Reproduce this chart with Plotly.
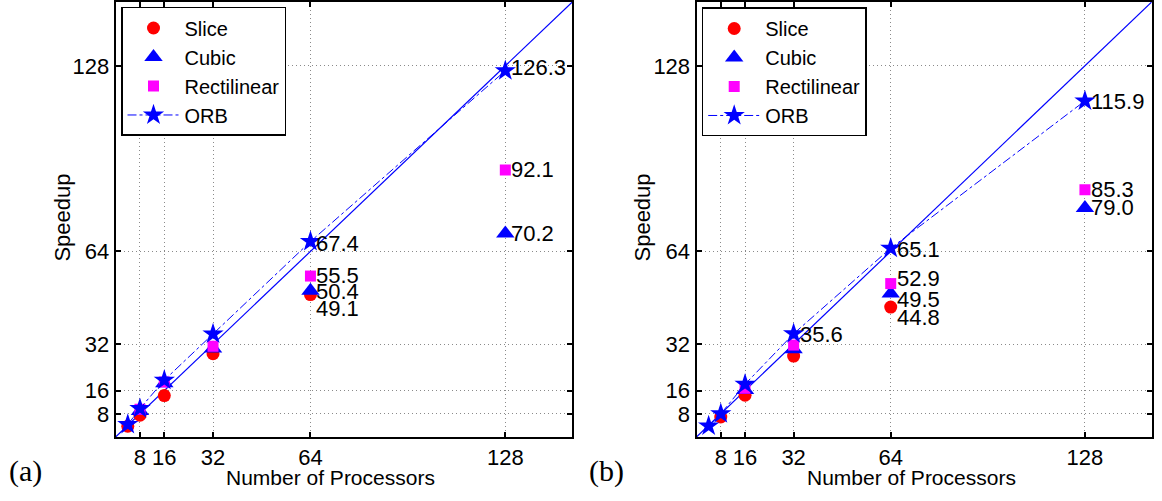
import plotly.graph_objects as go

# ---------------- data ----------------
tick_vals = [8, 16, 32, 64, 128]
tick_text = ["8", "16", "32", "64", "128"]
axis_range = [0, 150]
ideal = [0, 150]

# panel (a)
a_slice_x = [4, 8, 16, 32, 64]
a_slice_y = [3.7, 7.5, 14.3, 28.7, 49.1]
a_cubic_x = [8, 16, 32, 64, 128]
a_cubic_y = [9.0, 18.5, 30.5, 50.4, 70.2]
a_rect_x = [8, 16, 32, 64, 128]
a_rect_y = [9.6, 19.0, 31.3, 55.5, 92.1]
a_orb_x = [4, 8, 16, 32, 64, 128]
a_orb_y = [4.3, 9.8, 19.6, 35.5, 67.4, 126.3]

# panel (b)
b_slice_x = [8, 16, 32, 64]
b_slice_y = [6.9, 14.4, 27.9, 44.8]
b_cubic_x = [16, 32, 64, 128]
b_cubic_y = [16.2, 30.3, 49.5, 79.0]
b_rect_x = [16, 32, 64, 128]
b_rect_y = [16.8, 31.7, 52.9, 85.3]
b_orb_x = [4, 8, 16, 32, 64, 128]
b_orb_y = [3.8, 8.0, 18.2, 35.6, 65.1, 115.9]

RED, BLUE, MAG = "#ff0000", "#0000ff", "#ff00ff"
SANS = "Liberation Sans, Arial, sans-serif"
W, H = 1162, 501
B = 64  # bottom margin
PH = H - B

fig = go.Figure()

def add_panel(sx, sy, cx, cy, rx, ry, ox, oy, xa, ya, legend):
    fig.add_trace(go.Scatter(x=ideal, y=ideal, mode="lines", line=dict(color=BLUE, width=1.2),
                             xaxis=xa, yaxis=ya, showlegend=False, hoverinfo="skip"))
    fig.add_trace(go.Scatter(x=sx, y=sy, mode="markers", name="Slice",
                             marker=dict(symbol="circle", size=13, color=RED, line=dict(width=0)),
                             xaxis=xa, yaxis=ya, legend=legend))
    fig.add_trace(go.Scatter(x=cx, y=cy, mode="markers", name="Cubic",
                             marker=dict(symbol="triangle-up", size=16, color=BLUE, line=dict(width=0)),
                             xaxis=xa, yaxis=ya, legend=legend))
    fig.add_trace(go.Scatter(x=rx, y=ry, mode="markers", name="Rectilinear",
                             marker=dict(symbol="square", size=11, color=MAG, line=dict(width=0)),
                             xaxis=xa, yaxis=ya, legend=legend))
    fig.add_trace(go.Scatter(x=ox, y=oy, mode="lines+markers", name="ORB",
                             line=dict(color=BLUE, width=1, dash="dashdot"),
                             marker=dict(symbol="star", size=16, color=BLUE, line=dict(width=0)),
                             xaxis=xa, yaxis=ya, legend=legend))

add_panel(a_slice_x, a_slice_y, a_cubic_x, a_cubic_y, a_rect_x, a_rect_y, a_orb_x, a_orb_y, "x", "y", "legend")
add_panel(b_slice_x, b_slice_y, b_cubic_x, b_cubic_y, b_rect_x, b_rect_y, b_orb_x, b_orb_y, "x2", "y2", "legend2")

# value labels: (x list, y list, index, yshift)
labels_a = [
    (a_orb_x, a_orb_y, 4, -2), (a_rect_x, a_rect_y, 3, 1), (a_cubic_x, a_cubic_y, 3, -1),
    (a_slice_x, a_slice_y, 4, -14), (a_orb_x, a_orb_y, 5, 3), (a_rect_x, a_rect_y, 4, 0),
    (a_cubic_x, a_cubic_y, 4, 0),
]
labels_b = [
    (b_orb_x, b_orb_y, 3, -1), (b_orb_x, b_orb_y, 4, -1), (b_rect_x, b_rect_y, 2, 5),
    (b_cubic_x, b_cubic_y, 2, -6), (b_slice_x, b_slice_y, 3, -10), (b_orb_x, b_orb_y, 5, -1),
    (b_rect_x, b_rect_y, 3, 0), (b_cubic_x, b_cubic_y, 3, 0),
]
annotations = []
for labs, xr, yr in ((labels_a, "x", "y"), (labels_b, "x2", "y2")):
    for xs, ys, i, dy in labs:
        annotations.append(dict(x=xs[i], y=ys[i], xref=xr, yref=yr, text=f"{ys[i]:.1f}",
                                showarrow=False, xanchor="left", yanchor="middle",
                                xshift=4, yshift=dy, font=dict(family=SANS, size=22, color="black")))

dom_a = [115.6 / W, 572.3 / W]
dom_b = [696.5 / W, 1151.7 / W]

for dom, tag in ((dom_a, "a"), (dom_b, "b")):
    cx = (dom[0] + dom[1]) / 2 - 13 / W
    annotations.append(dict(x=cx, y=-41 / PH, xref="paper", yref="paper", text="Number of Processors",
                            showarrow=False, xanchor="center", yanchor="middle",
                            font=dict(family=SANS, size=21, color="black")))
    annotations.append(dict(x=dom[0] - 54 / W, y=1 - 217 / PH, xref="paper", yref="paper", text="Speedup",
                            textangle=-90, showarrow=False, xanchor="center", yanchor="middle",
                            font=dict(family=SANS, size=22, color="black")))
    annotations.append(dict(x=dom[0] - 90 / W, y=-34 / PH, xref="paper", yref="paper", text=f"({tag})",
                            showarrow=False, xanchor="center", yanchor="middle",
                            font=dict(family="Liberation Serif, DejaVu Serif, serif", size=30, color="black")))

axis_common = dict(range=axis_range, tickmode="array", tickvals=tick_vals, ticktext=tick_text,
                   showgrid=True, gridcolor="#8a8a8a", gridwidth=1, griddash="1px,3px",
                   zeroline=False, showline=True, linecolor="black", linewidth=2, mirror="ticks",
                   ticks="inside", ticklen=5, tickwidth=1.5, tickcolor="black",
                   tickfont=dict(family=SANS, size=22, color="black"))

leg_common = dict(bgcolor="white", bordercolor="black", borderwidth=1.5,
                  font=dict(family=SANS, size=20, color="black"), itemwidth=52,
                  xanchor="left", yanchor="top", tracegroupgap=0)

fig.update_layout(
    width=W, height=H,
    margin=dict(l=0, r=0, t=0, b=B),
    paper_bgcolor="white", plot_bgcolor="white",
    xaxis=dict(domain=dom_a, anchor="y", **axis_common),
    yaxis=dict(domain=[0, 1], anchor="x", **axis_common),
    xaxis2=dict(domain=dom_b, anchor="y2", **axis_common),
    yaxis2=dict(domain=[0, 1], anchor="x2", **axis_common),
    legend=dict(x=121 / W, y=1 - 5 / PH, **leg_common),
    legend2=dict(x=701.7 / W, y=1 - 5.5 / PH, **leg_common),
    annotations=annotations,
    showlegend=True,
)

fig.write_html("out.html")
